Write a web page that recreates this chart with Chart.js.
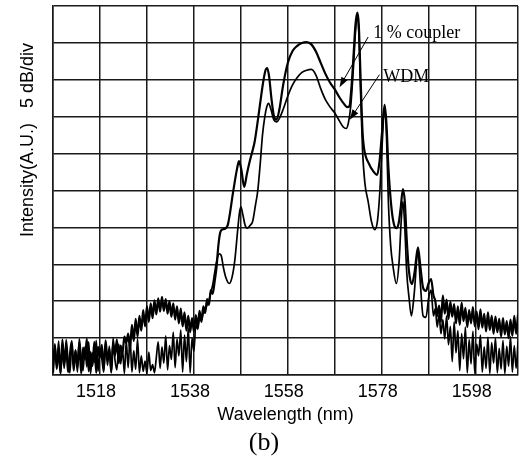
<!DOCTYPE html>
<html>
<head>
<meta charset="utf-8">
<script src="https://cdn.jsdelivr.net/npm/chart.js@4.4.1/dist/chart.umd.min.js"></script>
<style>
  body { margin: 0; background: #fff; }
  canvas { display: block; }
</style>
</head>
<body>
<canvas id="spectrum" width="529" height="460"></canvas>
<script>
// wavelength grid (nm) and tick labels
var gridNm = [1508, 1518, 1528, 1538, 1548, 1558, 1568, 1578, 1588, 1598, 1607];
var gridDb = [0, 5, 10, 15, 20, 25, 30, 35, 40, 45, 50];
var tickLabels = [1518, 1538, 1558, 1578, 1598];

// short wavelength side, shared by both traces (noise floor + rise)
var lowNm = [
  1508.0,1508.4,1508.8,1509.2,1509.6,1510.0,1510.4,1510.8,1511.2,1511.6,
  1512.0,1512.4,1512.8,1513.2,1513.6,1514.0,1514.4,1514.8,1515.2,1515.6,
  1516.0,1516.4,1516.8,1517.2,1517.6,1518.0,1518.4,1518.8,1519.2,1519.6,
  1520.0,1520.4,1520.8,1521.2,1521.6,1522.0,1522.4,1522.8,1523.2,1523.6,
  1524.0,1524.4,1524.8,1525.2,1525.6,1526.0,1526.4,1526.8,1527.2,1527.6,
  1528.0,1528.4,1528.8,1529.2,1529.6,1530.0,1530.4,1530.8,1531.2,1531.6,
  1532.0,1532.4,1532.8,1533.2,1533.6,1534.0,1534.4,1534.8,1535.2,1535.6,
  1536.0,1536.4,1536.8,1537.2,1537.6,1538.0,1538.4,1538.8,1539.2,1539.6,
  1540.0,1540.4,1540.8,1541.2,1541.6,1542.0,1542.4
];
// long wavelength noisy tail, shared by both traces
var highNm = [
  1589.4,1589.8,1590.2,1590.6,1591.0,1591.4,1591.8,1592.2,1592.6,1593.0,
  1593.4,1593.8,1594.2,1594.6,1595.0,1595.4,1595.8,1596.2,1596.6,1597.0,
  1597.4,1597.8,1598.2,1598.6,1599.0,1599.4,1599.8,1600.2,1600.6,1601.0,
  1601.4,1601.8,1602.2,1602.6,1603.0,1603.4,1603.8,1604.2,1604.6,1605.0,
  1605.4,1605.8,1606.2,1606.6,1607.0
];

// 1 % coupler output
var couplerLowDb = [
  0.3,4.2,0.8,3.6,0.2,4.8,1.5,3.9,0.4,2.8,
  4.6,0.6,3.3,1.0,4.4,0.2,3.7,2.1,4.9,0.5,
  3.1,1.2,4.5,0.3,3.8,2.4,4.1,0.7,4.7,1.9,
  3.5,0.4,4.3,2.6,4.8,1.6,4.0,3.0,5.2,4.3,
  5.6,3.6,6.8,4.6,7.6,5.2,8.0,6.0,8.8,6.6,
  9.3,7.2,9.7,7.7,10.1,8.2,10.4,8.6,10.6,8.7,
  10.3,8.3,10.0,7.9,9.7,7.5,9.3,7.0,9.0,6.6,
  8.5,6.0,8.0,5.8,7.7,5.9,8.1,6.5,8.7,7.2,
  9.3,8.4,10.3,9.5,11.5,11.0,12.6
];
var couplerMidNm = [
  1542.8,1543.2,1543.6,1544.0,1544.6,1545.2,1545.7,1546.2,1546.7,1547.2,
  1547.6,1548.1,1548.7,1549.3,1549.9,1550.4,1550.9,1551.5,1552.1,1552.7,
  1553.2,1553.6,1554.0,1554.5,1555.0,1555.6,1556.2,1557.0,1558.0,1559.0,
  1560.0,1561.0,1562.0,1563.0,1564.0,1565.0,1566.0,1567.0,1568.0,1569.0,
  1570.0,1570.6,1571.1,1571.6,1572.0,1572.4,1572.8,1573.1,1573.5,1573.9,
  1574.2,1575.2,1576.2,1577.0,1577.5,1578.0,1578.6,1579.0,1579.4,1580.1,
  1580.6,1581.1,1581.6,1582.0,1582.5,1582.9,1583.3,1583.8,1584.4,1585.0,
  1585.7,1586.2,1586.8,1587.4,1588.0,1588.5,1589.0
];
var couplerMidDb = [
  14.5,17.5,19.3,19.7,19.8,20.3,22.0,24.2,26.2,28.0,
  29.0,27.8,25.5,27.3,29.0,30.2,31.5,34.0,36.8,39.5,
  41.2,41.6,40.5,37.5,35.2,34.6,36.0,39.3,42.3,43.9,
  44.6,45.0,45.1,44.8,43.8,42.3,40.8,39.6,38.7,37.6,
  36.7,36.3,36.4,39.5,43.5,47.5,49.1,47.5,40.0,33.0,
  30.8,28.7,27.6,27.1,28.8,32.5,36.6,34.0,28.2,22.4,
  20.4,19.9,20.6,22.5,25.2,23.5,18.5,14.0,12.3,14.0,
  17.3,14.8,11.8,11.4,12.5,13.0,10.8
];
var couplerHighDb = [
  10.0,8.0,9.4,7.2,10.8,8.3,10.2,7.6,9.9,7.9,
  9.6,7.0,9.3,6.8,9.8,7.3,9.1,6.5,8.8,7.0,
  9.2,6.6,8.6,6.2,8.9,6.4,8.3,5.9,8.5,6.1,
  8.0,5.6,7.9,5.8,7.6,5.2,7.7,5.5,7.3,5.0,
  7.5,5.3,8.0,5.6,8.2
];

// WDM output
var wdmLowDb = [
  0.5,3.9,1.2,4.6,0.2,3.2,0.9,4.8,2.0,0.3,
  4.1,1.4,3.4,0.4,4.9,2.3,0.6,3.8,1.1,4.5,
  0.2,3.0,1.7,4.7,0.5,3.6,2.2,0.4,4.4,1.3,
  3.9,0.3,5.0,2.0,0.7,4.2,1.5,3.5,0.2,4.6,
  1.0,5.2,0.4,3.3,0.8,4.9,0.3,2.6,0.5,1.9,
  0.2,3.1,0.6,1.4,0.3,2.4,4.5,0.9,3.8,1.6,
  5.3,0.7,4.0,2.1,5.8,1.0,4.9,2.6,6.1,0.4,
  5.4,1.8,6.4,0.3,5.0,3.2,6.8,6.2,7.6,7.4,
  8.4,8.8,9.5,10.1,11.2,12.2,13.8
];
var wdmMidNm = [
  1542.9,1543.4,1543.8,1544.3,1544.8,1545.5,1546.1,1546.7,1547.3,
  1547.7,1548.0,1548.4,1548.9,1549.4,1550.0,1550.5,1551.1,1551.6,1552.1,
  1552.6,1553.1,1553.5,1553.9,1554.4,1555.0,1555.6,1556.3,1557.0,1558.0,
  1559.0,1560.0,1561.0,1562.0,1563.0,1564.0,1565.0,1566.0,1567.0,1568.0,
  1569.0,1569.8,1570.4,1570.9,1571.4,1571.9,1572.4,1572.8,1573.1,1573.5,
  1573.9,1574.4,1575.1,1575.8,1576.5,1577.1,1577.6,1578.1,1578.6,1579.0,
  1579.4,1579.9,1580.4,1581.1,1581.7,1582.1,1582.5,1582.9,1583.3,1583.8,
  1584.3,1584.9,1585.7,1586.2,1586.8,1587.4,1588.0,1588.5,1589.0
];
var wdmMidDb = [
  15.6,16.4,16.2,14.5,13.2,12.4,13.2,15.5,19.5,
  22.0,22.8,21.8,20.3,19.9,20.3,20.8,23.0,25.0,28.5,
  32.5,35.0,36.3,36.8,36.0,34.6,34.3,34.9,36.0,37.8,
  39.3,40.3,41.0,41.3,41.4,40.6,38.8,37.3,36.3,35.5,
  34.4,33.6,33.4,34.2,36.5,41.0,46.5,48.8,46.5,38.0,
  30.5,26.0,23.5,20.8,19.7,21.0,25.0,31.5,36.3,32.5,
  23.5,17.5,14.7,12.4,15.5,20.5,23.5,20.0,14.0,10.5,
  8.0,11.0,16.8,12.5,8.0,7.8,10.5,11.5,8.0
];
var wdmHighDb = [
  9.0,6.5,8.2,5.6,7.5,4.9,8.0,4.1,6.6,1.8,
  7.2,3.0,6.0,0.6,5.6,2.2,6.5,0.3,4.8,1.5,
  5.9,0.2,4.2,2.6,5.4,0.4,3.8,0.9,5.1,0.2,
  4.4,1.6,5.0,0.3,3.6,0.8,4.7,0.2,3.9,1.2,
  5.2,0.4,4.0,0.9,4.5
];

// annotation labels and arrows (nm, dB)
var noteText = ['1 % coupler', 'WDM'];
var noteAt = [[1576.2, 46.3], [1578.3, 40.4]];
var arrowFrom = [[1575.1, 45.8], [1577.5, 40.7]];
var arrowTo = [[1569.0, 39.0], [1571.2, 34.6]];

function toPoints(nm, db) {
    return nm.map(function (x, i) { return { x: x, y: db[i] }; });
}

var couplerNm = lowNm.concat(couplerMidNm, highNm);
var couplerDb = couplerLowDb.concat(couplerMidDb, couplerHighDb);
var wdmNm = lowNm.concat(wdmMidNm, highNm);
var wdmDb = wdmLowDb.concat(wdmMidDb, wdmHighDb);

var sans = '"Liberation Sans", Arial, sans-serif';
var serif = '"Liberation Serif", "Times New Roman", serif';

var extras = {
    id: 'extras',
    afterDraw: function (chart) {
        var ctx = chart.ctx;
        var xs = chart.scales.x, ys = chart.scales.y;
        ctx.save();
        ctx.fillStyle = '#000';
        ctx.strokeStyle = '#000';

        // rotated y title
        ctx.save();
        ctx.translate(28, 140);
        ctx.rotate(-Math.PI / 2);
        ctx.font = '18px ' + sans;
        ctx.textAlign = 'center';
        ctx.textBaseline = 'middle';
        ctx.fillText('Intensity(A.U.)   5 dB/div', 0, 0);
        ctx.restore();

        // panel label
        ctx.font = '26px ' + serif;
        ctx.textAlign = 'center';
        ctx.textBaseline = 'middle';
        ctx.fillText('(b)', 264, 443);

        // trace labels with arrows
        ctx.font = '18px ' + serif;
        ctx.textAlign = 'left';
        for (var i = 0; i < noteText.length; i++) {
            ctx.fillText(noteText[i], xs.getPixelForValue(noteAt[i][0]), ys.getPixelForValue(noteAt[i][1]));
            var x0 = xs.getPixelForValue(arrowFrom[i][0]), y0 = ys.getPixelForValue(arrowFrom[i][1]);
            var x1 = xs.getPixelForValue(arrowTo[i][0]), y1 = ys.getPixelForValue(arrowTo[i][1]);
            var a = Math.atan2(y1 - y0, x1 - x0);
            ctx.lineWidth = 1;
            ctx.beginPath();
            ctx.moveTo(x0, y0);
            ctx.lineTo(x1 - 8 * Math.cos(a), y1 - 8 * Math.sin(a));
            ctx.stroke();
            ctx.beginPath();
            ctx.moveTo(x1, y1);
            ctx.lineTo(x1 - 10 * Math.cos(a) + 3.5 * Math.sin(a), y1 - 10 * Math.sin(a) - 3.5 * Math.cos(a));
            ctx.lineTo(x1 - 10 * Math.cos(a) - 3.5 * Math.sin(a), y1 - 10 * Math.sin(a) + 3.5 * Math.cos(a));
            ctx.closePath();
            ctx.fill();
        }
        ctx.restore();
    }
};

var canvas = document.getElementById('spectrum');
var ctx = canvas.getContext('2d');

new Chart(ctx, {
    type: 'line',
    data: {
        datasets: [{
            label: '1 % coupler',
            data: toPoints(couplerNm, couplerDb),
            borderColor: '#000',
            borderWidth: 2.2,
            pointRadius: 0,
            cubicInterpolationMode: 'monotone',
            fill: false
        }, {
            label: 'WDM',
            data: toPoints(wdmNm, wdmDb),
            borderColor: '#000',
            borderWidth: 1.7,
            pointRadius: 0,
            cubicInterpolationMode: 'monotone',
            fill: false
        }]
    },
    options: {
        responsive: false,
        animation: false,
        devicePixelRatio: 1,
        layout: { padding: { left: 53, right: 11, top: 6, bottom: 34 } },
        plugins: {
            legend: { display: false },
            tooltip: { enabled: false }
        },
        scales: {
            x: {
                type: 'linear',
                min: 1508,
                max: 1607,
                afterBuildTicks: function (axis) {
                    axis.ticks = gridNm.map(function (v) { return { value: v }; });
                },
                // fixed axis height so the plot bottom sits where the original does
                afterFit: function (axis) {
                    axis.height = 51;
                },
                grid: { color: '#1a1a1a', lineWidth: 1.5, drawTicks: false },
                border: { color: '#1a1a1a', width: 1.5 },
                ticks: {
                    autoSkip: false,
                    maxRotation: 0,
                    padding: 8,
                    labelOffset: -4,
                    color: '#000',
                    font: { size: 18, family: sans, lineHeight: 1.0 },
                    callback: function (v) {
                        return tickLabels.indexOf(v) >= 0 ? String(v) : '';
                    }
                },
                title: {
                    display: true,
                    text: 'Wavelength (nm)',
                    color: '#000',
                    font: { size: 18, family: sans },
                    padding: { top: 0, bottom: 0 }
                }
            },
            y: {
                type: 'linear',
                min: 0,
                max: 50,
                afterBuildTicks: function (axis) {
                    axis.ticks = gridDb.map(function (v) { return { value: v }; });
                },
                grid: { color: '#1a1a1a', lineWidth: 1.5, drawTicks: false },
                border: { color: '#1a1a1a', width: 1.5 },
                ticks: { display: false }
            }
        }
    },
    plugins: [extras]
});
</script>
</body>
</html>
